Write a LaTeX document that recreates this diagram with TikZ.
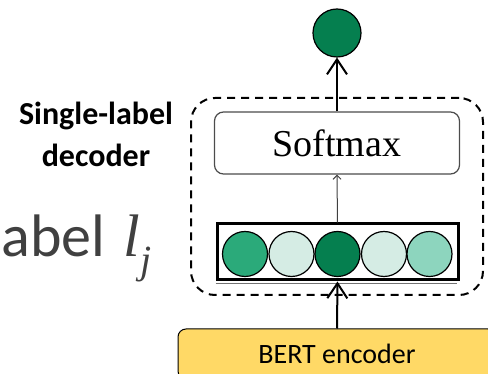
\documentclass[tikz,border=0pt]{standalone}
\usepackage{fontspec}
\setmainfont{Carlito}
\newfontfamily\seriffont{Liberation Serif}
\usetikzlibrary{arrows.meta}

\definecolor{greenA}{HTML}{2BAA7A}
\definecolor{greenB}{HTML}{D5ECE4}
\definecolor{greenC}{HTML}{057F4F}
\definecolor{greenD}{HTML}{8DD5BE}
\definecolor{encyellow}{HTML}{FFD966}
\definecolor{textgray}{HTML}{404040}

\tikzset{
  unit/.style={circle, draw, line width=1.2pt, minimum size=45pt, inner sep=0pt},
  vecbox/.style={draw, line width=3pt, minimum width=241pt, minimum height=56pt},
  softmaxbox/.style={draw=black!70, rounded corners=9pt, line width=1.2pt,
    minimum width=245pt, minimum height=62pt, font=\seriffont\fontsize{38}{40}\selectfont},
  decbox/.style={draw, dash pattern=on 8pt off 6pt, line width=2pt, rounded corners=24pt,
    minimum width=292pt, minimum height=197pt},
  encbox/.style={draw, fill=encyellow, rounded corners=8pt, line width=1pt,
    minimum width=318pt, minimum height=50pt, font=\fontsize{28}{30}\selectfont},
  bigarrow/.style={line width=2pt, -{Straight Barb[length=15pt, width=20pt]}},
  thinarrow/.style={line width=1pt, draw=black!75, -{Straight Barb[length=4pt, width=8pt]}}
}

\begin{document}
\begin{tikzpicture}[x=1pt, y=-1pt]
  \useasboundingbox (0,0) rectangle (488,374);
  \clip (0,0) rectangle (488,374);

  % Define the nodes
  \node[decbox] (dec) at (337,196.5) {};
  \node[softmaxbox] (softmax) at (337,143) {Softmax};
  \node[vecbox] (vec) at (337.5,252) {};
  \node[unit, fill=greenA] (c1) at (245,254) {};
  \node[unit, fill=greenB] (c2) at (291.5,254) {};
  \node[unit, fill=greenC] (c3) at (337.5,254) {};
  \node[unit, fill=greenB] (c4) at (384,254) {};
  \node[unit, fill=greenD] (c5) at (429.5,254) {};
  \node[unit, fill=greenC, minimum size=48pt] (out) at (337,33) {};
  \node[encbox] (enc) at (337,354) {BERT encoder};

  % Thin rule under the vector box
  \draw[black!55, line width=1pt] (vec.south west) ++(0,2.5) -- ++(241,0);

  % Draw arrows between the layers
  \draw[thinarrow] (vec.north) -- (softmax.south);
  \draw[bigarrow] (softmax.north) -- (out.south);
  \draw[bigarrow] (enc.north) -- (vec.south);

  % Labels on the left
  \node[font=\bfseries\fontsize{32}{42}\selectfont, align=center] (title) at (96,134)
    {Single-label\\decoder};
  \node[anchor=base west, text=textgray, font=\fontsize{60}{62}\selectfont] (lab) at (-16,257)
    {label\ \hspace{5pt}{\seriffont\itshape l\raisebox{-0.28em}{\fontsize{40}{42}\selectfont j}}};
\end{tikzpicture}
\end{document}
